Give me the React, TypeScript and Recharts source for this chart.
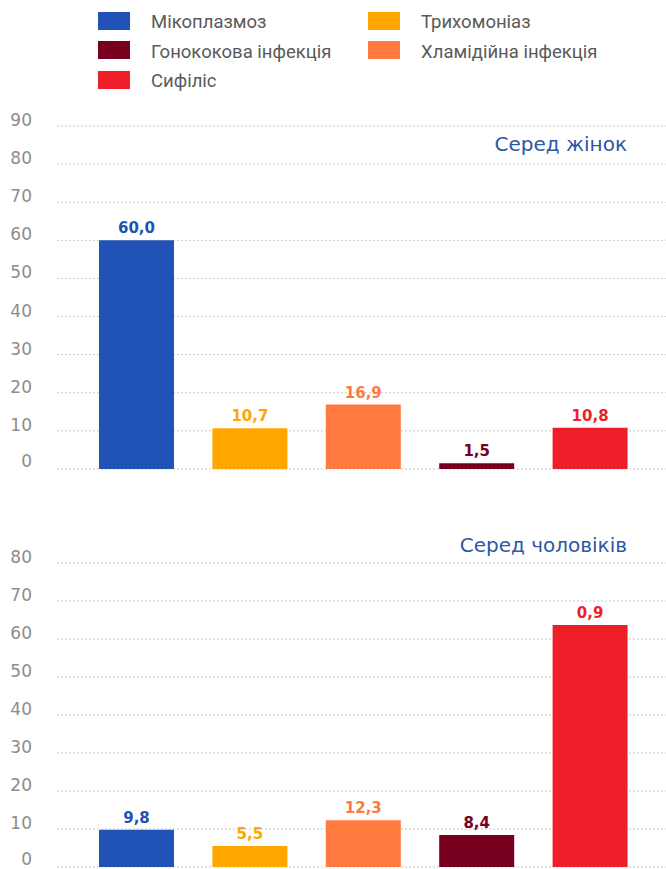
import React from "react";
import { BarChart, Bar, Cell, XAxis, YAxis, CartesianGrid } from "recharts";

const categories = ["Мікоплазмоз", "Трихомоніаз", "Хламідійна інфекція", "Гонококова інфекція", "Сифіліс"];
const colors = ["#2152b5", "#ffa600", "#ff7a3f", "#78001f", "#ee1f29"];

const womenValues = [60.0, 10.7, 16.9, 1.5, 10.8];
const womenLabels = ["60,0", "10,7", "16,9", "1,5", "10,8"];
const womenTicks = [0, 10, 20, 30, 40, 50, 60, 70, 80, 90];

const menValues = [9.8, 5.5, 12.3, 8.4, 63.7];
const menLabels = ["9,8", "5,5", "12,3", "8,4", "0,9"];
const menTicks = [0, 10, 20, 30, 40, 50, 60, 70, 80];

// legend goes row by row, two columns
const legendOrder = [0, 1, 3, 2, 4];

const W = 666;
const NUM_FONT = "'DejaVu Sans', sans-serif";

function YTick({ x, y, payload }: any) {
  // the bottom chart's 0 sits right at the page edge, lift it a touch
  const dy = payload.value === 0 ? -2 : 0;
  return (
    <text x={x} y={y} dy={dy} textAnchor="end" fontFamily={NUM_FONT} fontSize={17} fill="#8c8c8c">
      {payload.value}
    </text>
  );
}

function makeLabel(labels: string[]) {
  return (p: any) => {
    const i = p.index;
    return (
      <text
        x={p.x + p.width / 2}
        y={p.y - 7}
        textAnchor="middle"
        fontFamily={NUM_FONT}
        fontWeight="bold"
        fontSize={15}
        fill={colors[i]}
      >
        {labels[i]}
      </text>
    );
  };
}

function Panel({
  values,
  labels,
  ticks,
  title,
  height,
  top,
  bottom,
  titleY,
}: {
  values: number[];
  labels: string[];
  ticks: number[];
  title: string;
  height: number;
  top: number;
  bottom: number;
  titleY: number;
}) {
  const data = categories.map((name, i) => ({ name, value: values[i] }));
  return (
    <BarChart width={W} height={height} data={data} margin={{ top, right: 0, left: 0, bottom }}>
      <CartesianGrid vertical={false} stroke="#c9c9c9" strokeDasharray="2 2" />
      <XAxis
        dataKey="name"
        tick={false}
        tickLine={false}
        height={0}
        axisLine={{ stroke: "#a8a8a8", strokeWidth: 1.5 }}
        padding={{ left: 23, right: 19 }}
      />
      <YAxis
        domain={[0, ticks[ticks.length - 1]]}
        ticks={ticks}
        width={57}
        axisLine={false}
        tickLine={false}
        tickSize={0}
        tickMargin={25}
        tick={<YTick />}
        interval={0}
      />
      <Bar dataKey="value" barSize={75} isAnimationActive={false} label={makeLabel(labels)}>
        {data.map((_, i) => (
          <Cell key={`c-${i}`} fill={colors[i]} />
        ))}
      </Bar>
      <text
        x={627}
        y={titleY}
        textAnchor="end"
        dominantBaseline="central"
        fontFamily="'DejaVu Sans', sans-serif"
        fontSize={20}
        fill="#2d57a7"
      >
        {title}
      </text>
    </BarChart>
  );
}

function TopLegend() {
  return (
    <div style={{ position: "absolute", left: 0, top: 0, width: W, height: 100 }}>
      {legendOrder.map((ci, k) => {
        const col = k % 2;
        const row = Math.floor(k / 2);
        const left = col === 0 ? 98 : 368;
        const topY = 10 + row * 29.6;
        return (
          <div key={ci} style={{ position: "absolute", left, top: topY, display: "flex", alignItems: "center" }}>
            <div style={{ width: 32, height: 18, background: colors[ci] }} />
            <span
              style={{
                marginLeft: 21,
                fontFamily: "Roboto, sans-serif",
                fontSize: 18.5,
                color: "#5a5a5a",
                lineHeight: "18px",
                paddingTop: 3,
                whiteSpace: "nowrap",
              }}
            >
              {categories[ci]}
            </span>
          </div>
        );
      })}
    </div>
  );
}

export default function App() {
  return (
    <div style={{ position: "absolute", left: 0, top: 0, width: W, height: 869, background: "#fff" }}>
      <div style={{ position: "absolute", left: 0, top: 0 }}>
        <Panel
          values={womenValues}
          labels={womenLabels}
          ticks={womenTicks}
          title="Серед жінок"
          height={480}
          top={126}
          bottom={11}
          titleY={144}
        />
      </div>
      <TopLegend />
      <div style={{ position: "absolute", left: 0, top: 480 }}>
        <Panel
          values={menValues}
          labels={menLabels}
          ticks={menTicks}
          title="Серед чоловіків"
          height={389}
          top={83}
          bottom={2}
          titleY={65}
        />
      </div>
    </div>
  );
}
